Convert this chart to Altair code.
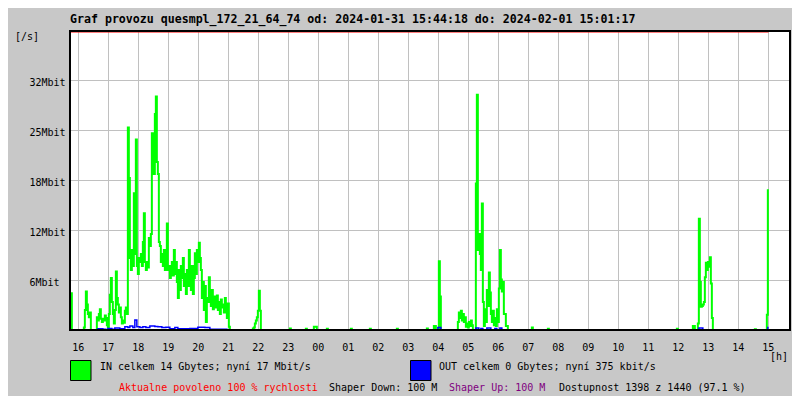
import json
import altair as alt
import pandas as pd

# ---------------- text ----------------
title_text = "Graf provozu quesmpl_172_21_64_74 od: 2024-01-31 15:44:18 do: 2024-02-01 15:01:17"
start_time = "15:44:18"
end_time = "15:01:17"
hour_labels = ["16", "17", "18", "19", "20", "21", "22", "23", "00", "01", "02", "03",
               "04", "05", "06", "07", "08", "09", "10", "11", "12", "13", "14", "15"]
y_ticks = [6.25, 12.5, 18.75, 25.0, 31.25]
y_tick_labels = ["6Mbit", "12Mbit", "18Mbit", "25Mbit", "32Mbit"]
y_max = 37.375
in_legend = "IN celkem 14 Gbytes; nyní 17 Mbit/s"
out_legend = "OUT celkem 0 Gbytes; nyní 375 kbit/s"
status_red = "Aktualne povoleno 100 % rychlosti"
status_down = "Shaper Down: 100 M"
status_up = "Shaper Up: 100 M"
status_avail = "Dostupnost 1398 z 1440 (97.1 %)"

STEP_MIN = 2  # one sample every 2 minutes

# ---------------- IN (Mbit/s), 2-minute samples ----------------
in_evening = [4.6, 4.6, 0, 0, 0, 0, 0, 0, 0, 0, 0, 0, 0, 0,
              0.3, 2.5, 4.8, 3.2, 2.0, 1.6, 2.2, 0, 0, 0, 0, 0, 0,
              1.6, 1.2, 2.0, 2.6, 1.4, 1.0, 1.4, 1.2, 1.8, 1.5, 0.6, 0.3,
              2.0, 4.4, 6.5, 3.5, 2.0, 0.8, 2.5, 7.3, 4.0, 3.2, 2.2, 2.8, 1.6, 0.8, 1.2, 0.9, 2.4, 2.8, 2.0,
              25.3, 19.0, 9.0, 7.5, 10.0, 8.0, 17.1, 9.5, 23.8, 8.0,
              7.0, 9.0, 8.5, 9.5, 8.0, 11.0, 14.6, 8.5, 7.5, 8.5,
              7.8, 11.5, 10.5, 12.0, 24.6, 21.0, 19.5, 27.0, 29.2, 21.0,
              19.5, 11.0, 10.5, 8.5, 9.5, 8.0, 10.0, 7.5, 9.0, 13.3,
              7.5, 8.0, 6.5, 7.0, 8.5, 6.8, 10.0, 7.0, 8.5, 6.0,
              4.0, 7.5, 5.0, 8.0, 6.5, 9.0, 5.5, 7.0, 4.5, 7.5,
              5.5, 10.0, 6.5, 5.0, 8.0, 4.5, 6.5, 9.6, 7.0, 10.0,
              8.5, 10.9, 9.0, 7.5, 4.0, 6.0, 2.5, 5.5, 1.0, 4.0,
              3.5, 6.6, 4.0, 3.0, 5.0, 2.6, 4.2, 3.2, 2.8, 4.3,
              2.5, 3.5, 2.0, 3.8, 2.8, 3.2, 2.2, 4.0, 2.5, 1.5,
              3.3, 0.4, 0]
in_night22 = [0.2, 0.3, 0.8, 1.2, 1.6, 2.4, 4.9, 2.4, 0]
in_morning04 = [0.5, 0.5, 0, 0, 0, 8.6, 4.2, 0]
in_morning05 = [1.0, 2.2, 1.5, 2.4, 1.2, 2.0, 1.0, 1.6, 0.4, 0.8,
                0.3, 1.0, 0.5, 1.2, 0.6, 0, 0, 0, 18.3, 29.4,
                10.0, 12.0, 9.5, 7.5, 15.8, 3.5, 0.5, 2.6, 1.0, 5.0,
                3.0, 7.2, 4.7, 2.0, 1.0, 2.4, 0.6, 1.5, 0.5, 2.6,
                1.0, 5.2, 10.0, 6.3, 4.8, 6.0, 2.0, 2.0, 0.5, 0.5,
                0]
in_noon13 = [0.5, 0.5, 0, 0, 0, 0.8, 13.9, 6.0, 2.9, 3.0, 3.2, 3.5, 6.6, 8.4,
             7.5, 8.5, 7.9, 9.1, 5.8, 1.5, 0]
in_end15 = [1.9, 17.6]
in_segments = [
    ("15:44", in_evening), ("21:50", in_night22),
    ("23:04", [0.2, 0]), ("23:36", [0.15, 0]), ("23:52", [0.4, 0.4, 0.4, 0]),
    ("00:18", [0.15, 0]), ("01:06", [0.15, 0]), ("01:44", [0.15, 0]),
    ("02:38", [0.15, 0]), ("03:38", [0.2, 0]),
    ("03:52", in_morning04), ("04:40", in_morning05),
    ("07:08", [0.3, 0]), ("07:40", [0.15, 0]), ("11:58", [0.15, 0]),
    ("12:30", in_noon13), ("14:34", [0.1, 0]), ("14:58", in_end15),
]

# ---------------- OUT (Mbit/s) ----------------
out_times = ["15:44", "16:38", "16:40", "16:50", "16:56", "17:00", "17:08", "17:14", "17:24",
             "17:34", "17:40", "17:44", "17:50", "17:54", "17:58", "18:04", "18:10", "18:16",
             "18:24", "18:34", "18:40", "18:48", "18:56", "19:04", "19:14", "19:20", "19:44",
             "20:00", "20:14", "20:24", "20:58", "04:00", "04:06", "05:16", "05:22", "05:26",
             "05:30", "05:38", "05:46", "05:54", "05:58", "06:04", "06:08", "12:42", "12:50",
             "15:00"]
out_values = [0, 0, 0.15, 0.1, 0, 0.2, 0.1, 0.25, 0.15,
              0.4, 0.3, 0.5, 0.3, 1.25, 0.4, 0.3, 0.4, 0.3,
              0.5, 0.45, 0.4, 0.3, 0.35, 0.15, 0.3, 0.15, 0.2,
              0.35, 0.3, 0.1, 0, 0.3, 0, 0.25, 0, 0.2,
              0, 0.25, 0, 0.2, 0, 0.25, 0, 0.25, 0,
              0.4]


def hours_from_16(t):
    p = [int(v) for v in t.split(":")]
    s = p[2] if len(p) > 2 else 0
    mins = p[0] * 60 + p[1] + s / 60 - 960
    if mins < -17:
        mins += 1440
    return mins / 60


rows = []
for start, vals in in_segments:
    h0 = hours_from_16(start)
    for i, v in enumerate(vals):
        rows.append({"x": h0 + i * STEP_MIN / 60, "v": v})
in_df = pd.DataFrame(rows)
out_df = pd.DataFrame({"x": [hours_from_16(t) for t in out_times], "v": out_values})

x0 = hours_from_16(start_time)
x1 = x0 + 24
red_df = pd.DataFrame({"x": [x0], "x2": [hours_from_16(end_time)], "v": [y_max]})

W, H = 720, 299
MONO = "DejaVu Sans Mono"

xscale = alt.Scale(domain=[x0, x1], nice=False, zero=False)
yscale = alt.Scale(domain=[0, y_max], nice=False)

x_axis = alt.Axis(values=list(range(24)), labelExpr=json.dumps(hour_labels) + "[datum.value]",
                  title=None, grid=True, gridColor="#c0c0c0", gridWidth=1, ticks=False, tickSize=0,
                  domain=False, labelFont=MONO, labelFontSize=10, labelColor="#000000",
                  labelBaseline="alphabetic", labelPadding=20, labelFlush=False, labelOverlap=False)
y_axis = alt.Axis(values=y_ticks, labelExpr=json.dumps(y_tick_labels) + "[round(datum.value/6.25)-1]",
                  title=None, grid=True, gridColor="#c0c0c0", gridWidth=1, ticks=False, tickSize=0,
                  domain=False, labelFont=MONO, labelFontSize=10, labelColor="#000000",
                  labelAlign="left", labelBaseline="alphabetic", labelPadding=41, labelOffset=5,
                  labelFlush=False, labelOverlap=False)

X = alt.X("x:Q", scale=xscale, axis=x_axis)
Y = alt.Y("v:Q", scale=yscale, axis=y_axis)

in_line = alt.Chart(in_df).mark_line(interpolate="step-after", color="#00ff00", strokeWidth=2).encode(
    x=X, y=Y)
out_line = alt.Chart(out_df).mark_line(interpolate="step-after", color="#0000ff", strokeWidth=1.5).encode(
    x=X, y=Y)
red_rule = alt.Chart(red_df).mark_rule(color="#ff0000", strokeWidth=1).encode(
    x=X, x2="x2:Q", y=alt.value(1)
)

one = pd.DataFrame({"a": [0]})
frame = alt.Chart(one).mark_rect(fill="transparent", stroke="#000000", strokeWidth=2).encode(
    x=alt.value(0), x2=alt.value(W), y=alt.value(0), y2=alt.value(H)
)
green_box = alt.Chart(one).mark_rect(fill="#00ff00", stroke="#000000", strokeWidth=1).encode(
    x=alt.value(0.5), x2=alt.value(21), y=alt.value(329.5), y2=alt.value(349.5)
)
blue_box = alt.Chart(one).mark_rect(fill="#0000ff", stroke="#000000", strokeWidth=1).encode(
    x=alt.value(340.5), x2=alt.value(361), y=alt.value(329.5), y2=alt.value(349.5)
)


def label(text, x, y, color="#000000", size=10, weight="normal"):
    return alt.Chart(pd.DataFrame({"t": [text]})).mark_text(
        align="left", baseline="alphabetic", font=MONO, fontSize=size, fontWeight=weight, color=color
    ).encode(x=alt.value(x), y=alt.value(y), text="t:N")


texts = [
    label(title_text, 0, -8, size=11.6, weight="bold"),
    label("[/s]", -55, 8.5),
    label("[h]", 700, 328.5),
    label(in_legend, 30, 339),
    label(out_legend, 369, 339),
    label(status_red, 49, 359.5, color="#ff0000"),
    label(status_down, 259, 359.5),
    label(status_up, 379, 359.5, color="#800080"),
    label(status_avail, 489, 359.5),
]

chart = alt.layer(in_line, out_line, red_rule, frame, green_box, blue_box, *texts).properties(
    width=W, height=H,
    autosize=alt.AutoSizeParams(type="none"),
    padding={"left": 62, "top": 23, "right": 2, "bottom": 66},
    background="#c8c8c8",
).configure_view(fill="#ffffff", stroke="transparent")

chart.save("out.html", embed_options={"renderer": "svg", "actions": False})
